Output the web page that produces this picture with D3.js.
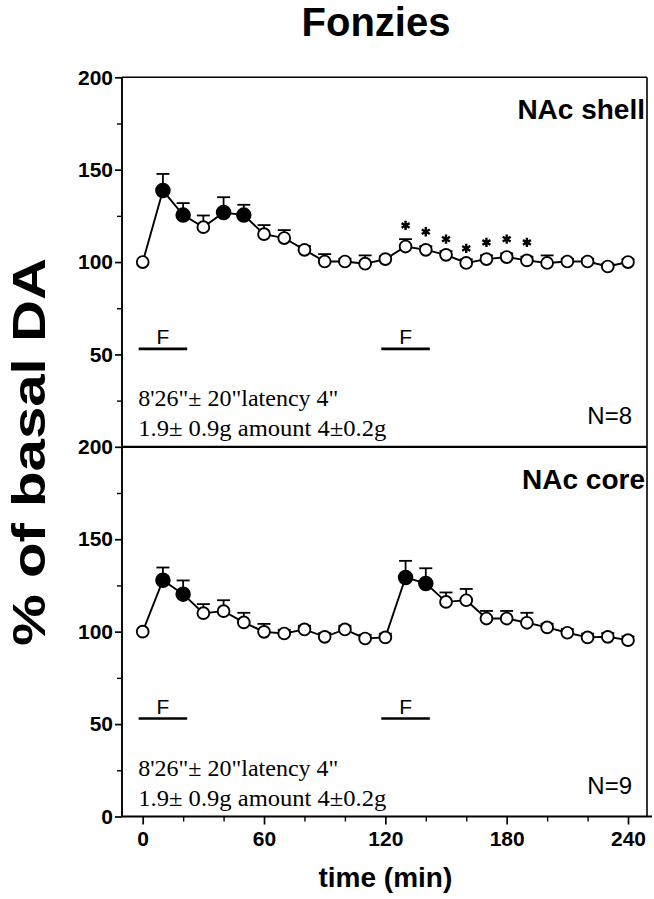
<!DOCTYPE html>
<html><head><meta charset="utf-8">
<script src="https://cdn.jsdelivr.net/npm/d3@7"></script>
<style>body{margin:0;background:#fff}svg{display:block}</style>
</head><body>
<svg id="chart" width="654" height="899"></svg>
<script>
// ---------------- data ----------------
const times = [0,10,20,30,40,50,60,70,80,90,100,110,120,130,140,150,160,170,180,190,200,210,220,230,240];

const shellMean = [100,138.7,125.4,118.9,126.8,125.4,115.1,113.0,106.6,100.3,100.3,99.1,101.6,108.4,106.6,103.9,99.5,101.6,102.7,100.9,99.5,100.3,100.3,97.6,100.0];
const shellSem  = [0,9.0,6.5,6.3,8.3,5.6,4.9,4.3,2,4.0,1.5,4.5,1.5,4.0,2,2,2,2,2,2,4.1,1.5,1.5,1.5,1.5];
const shellFilled = [0,1,1,0,1,1,0,0,0,0,0,0,0,0,0,0,0,0,0,0,0,0,0,0,0];

const shellStarTimes  = [130,140,150,160,170,180,190];
const shellStarLevels = [119.8,116.4,112.4,107.4,110.6,112.4,110.6];

const coreMean = [100,127.8,120.3,110.0,111.1,105.0,99.9,99.0,101.2,97.2,101.2,96.3,96.9,129.3,126.1,116.1,117.0,107.1,107.1,104.8,102.3,99.4,96.9,97.2,95.4];
const coreSem  = [0,6.9,7.4,4.9,5.9,5.2,4.3,2,2,2,2,2,2,9.0,8.2,5.1,6.1,4.1,4.1,5.4,2,2,2,2,2];
const coreFilled = [0,1,1,0,0,0,0,0,0,0,0,0,0,1,1,0,0,0,0,0,0,0,0,0,0];

const yMajorTicks = [0,50,100,150,200];
const yMinorTicks = [25,75,125,175];
const xMajorTicks = [0,60,120,180,240];
const xMinorTicks = [20,40,80,100,140,160,200,220];

const feedStarts = [-2,118];
const feedEnds   = [22,142];
const feedLabelTimes = [10,130];
const feedLevel = 53;

const noteLines = ["8'26\"\u00b1 20\"latency 4\"", "1.9\u00b1 0.9g amount 4\u00b10.2g"];
const panelNames = ["NAc shell","NAc core"];
const panelN = ["N=8","N=9"];

const titleText = "Fonzies";
const xLabel = "time (min)";
const yLabel = "% of basal DA";

// ---------------- layout ----------------
const svg = d3.select("#chart");
const SANS = "'Liberation Sans', Arial, sans-serif";
const SERIF = "'Liberation Serif', 'Times New Roman', serif";
const axisLeftX = 122, frameRight = 647;
const x = d3.scaleLinear().domain([0,240]).range([142.7,628]);
const panelRanges = [[446.8,77.3],[816.5,446.8]];

svg.append("text").attr("x",376).attr("y",36).attr("text-anchor","middle")
  .attr("font-family",SANS).attr("font-weight","bold").attr("font-size",40).text(titleText);

svg.append("text").attr("transform","translate(45,452) rotate(-90)").attr("text-anchor","middle")
  .attr("font-family",SANS).attr("font-weight","bold").attr("font-size",46)
  .attr("textLength",388).attr("lengthAdjust","spacingAndGlyphs").text(yLabel);

svg.append("text").attr("x",x(120)).attr("y",887).attr("text-anchor","middle")
  .attr("font-family",SANS).attr("font-weight","bold").attr("font-size",28).text(xLabel);

const panels = [
  {mean:shellMean, sem:shellSem, filled:shellFilled, stars:true},
  {mean:coreMean, sem:coreSem, filled:coreFilled, stars:false}
];

panels.forEach((p,pi) => {
  const y = d3.scaleLinear().domain([0,200]).range(panelRanges[pi]);
  const g = svg.append("g");
  const bottom = y(0), top = y(200);

  // y axis major
  const major = g.append("g").attr("transform",`translate(${axisLeftX},0)`)
    .call(d3.axisLeft(y).tickValues(pi===0 ? yMajorTicks.filter(v=>v>0) : yMajorTicks).tickSize(7).tickPadding(2).tickFormat(d3.format("d")));
  major.select(".domain").remove();
  major.selectAll("line").attr("stroke","#000").attr("stroke-width",1.7);
  major.selectAll("text").attr("font-family",SANS).attr("font-weight","bold").attr("font-size",21).attr("fill","#000");
  const minor = g.append("g").attr("transform",`translate(${axisLeftX},0)`)
    .call(d3.axisLeft(y).tickValues(yMinorTicks).tickSize(5).tickFormat(""));
  minor.select(".domain").remove();
  minor.selectAll("line").attr("stroke","#000").attr("stroke-width",1.4);

  // frame lines
  g.append("line").attr("x1",axisLeftX).attr("x2",axisLeftX).attr("y1",top).attr("y2",bottom).attr("stroke","#000").attr("stroke-width",1.9);
  g.append("line").attr("x1",frameRight).attr("x2",frameRight).attr("y1",top).attr("y2",bottom).attr("stroke","#000").attr("stroke-width",1.6);
  g.append("line").attr("x1",axisLeftX).attr("x2",frameRight).attr("y1",top).attr("y2",top).attr("stroke","#000").attr("stroke-width",pi===0?1.6:2.2);

  if (pi===1) {
    g.append("line").attr("x1",axisLeftX).attr("x2",652).attr("y1",bottom).attr("y2",bottom).attr("stroke","#000").attr("stroke-width",1.9);
    const xa = g.append("g").attr("transform",`translate(0,${bottom})`)
      .call(d3.axisBottom(x).tickValues(xMajorTicks).tickSize(8).tickPadding(6.5));
    xa.select(".domain").remove();
    xa.selectAll("line").attr("stroke","#000").attr("stroke-width",1.7);
    xa.selectAll("text").attr("font-family",SANS).attr("font-weight","bold").attr("font-size",21).attr("fill","#000");
    const xm = g.append("g").attr("transform",`translate(0,${bottom})`)
      .call(d3.axisBottom(x).tickValues(xMinorTicks).tickSize(5).tickFormat(""));
    xm.select(".domain").remove();
    xm.selectAll("line").attr("stroke","#000").attr("stroke-width",1.4);
  }

  // feeding bars
  feedStarts.forEach((s,i) => {
    g.append("line").attr("x1",x(s)).attr("x2",x(feedEnds[i])).attr("y1",y(feedLevel)).attr("y2",y(feedLevel))
      .attr("stroke","#000").attr("stroke-width",2.6);
    g.append("text").attr("x",x(feedLabelTimes[i])).attr("y",y(feedLevel)-4.5).attr("text-anchor","middle")
      .attr("font-family",SANS).attr("font-size",21).text("F");
  });

  // notes
  g.append("text").attr("x",138.3).attr("y",bottom-41).attr("font-family",SERIF).attr("font-size",24)
    .attr("textLength",200).attr("lengthAdjust","spacingAndGlyphs").text(noteLines[0]);
  g.append("text").attr("x",138.3).attr("y",bottom-11).attr("font-family",SERIF).attr("font-size",24)
    .attr("textLength",248).attr("lengthAdjust","spacingAndGlyphs").text(noteLines[1]);

  // panel name and N
  g.append("text").attr("x",645).attr("y",top+42).attr("text-anchor","end")
    .attr("font-family",SANS).attr("font-weight","bold").attr("font-size",28).text(panelNames[pi]);
  g.append("text").attr("x",632).attr("y",bottom-23).attr("text-anchor","end")
    .attr("font-family",SANS).attr("font-size",24).text(panelN[pi]);

  // data
  const pts = times.map((t,i)=>({t, m:p.mean[i], s:p.sem[i], f:p.filled[i]}));
  // error bars (upper only)
  const eb = g.append("g").attr("stroke","#000").attr("stroke-width",1.8);
  pts.forEach(d => {
    if (d.s<=0) return;
    eb.append("line").attr("x1",x(d.t)).attr("x2",x(d.t)).attr("y1",y(d.m)).attr("y2",y(d.m+d.s));
    eb.append("line").attr("x1",x(d.t)-6.5).attr("x2",x(d.t)+6.5).attr("y1",y(d.m+d.s)).attr("y2",y(d.m+d.s));
  });
  g.append("path").datum(pts).attr("fill","none").attr("stroke","#000").attr("stroke-width",1.9)
    .attr("d",d3.line().x(d=>x(d.t)).y(d=>y(d.m)));
  g.selectAll("circle.pt").data(pts).join("circle").attr("class","pt")
    .attr("cx",d=>x(d.t)).attr("cy",d=>y(d.m)).attr("r",d=>d.f?6.8:5.9)
    .attr("fill",d=>d.f?"#000":"#fff").attr("stroke","#000").attr("stroke-width",1.9);

  if (p.stars) {
    const sym = d3.symbol().type(d3.symbolAsterisk).size(60);
    shellStarTimes.forEach((t,i) => {
      g.append("path").attr("d",sym()).attr("transform",`translate(${x(t)},${y(shellStarLevels[i])})`)
        .attr("fill","none").attr("stroke","#000").attr("stroke-width",2.4);
    });
  }
});
</script>
</body></html>
